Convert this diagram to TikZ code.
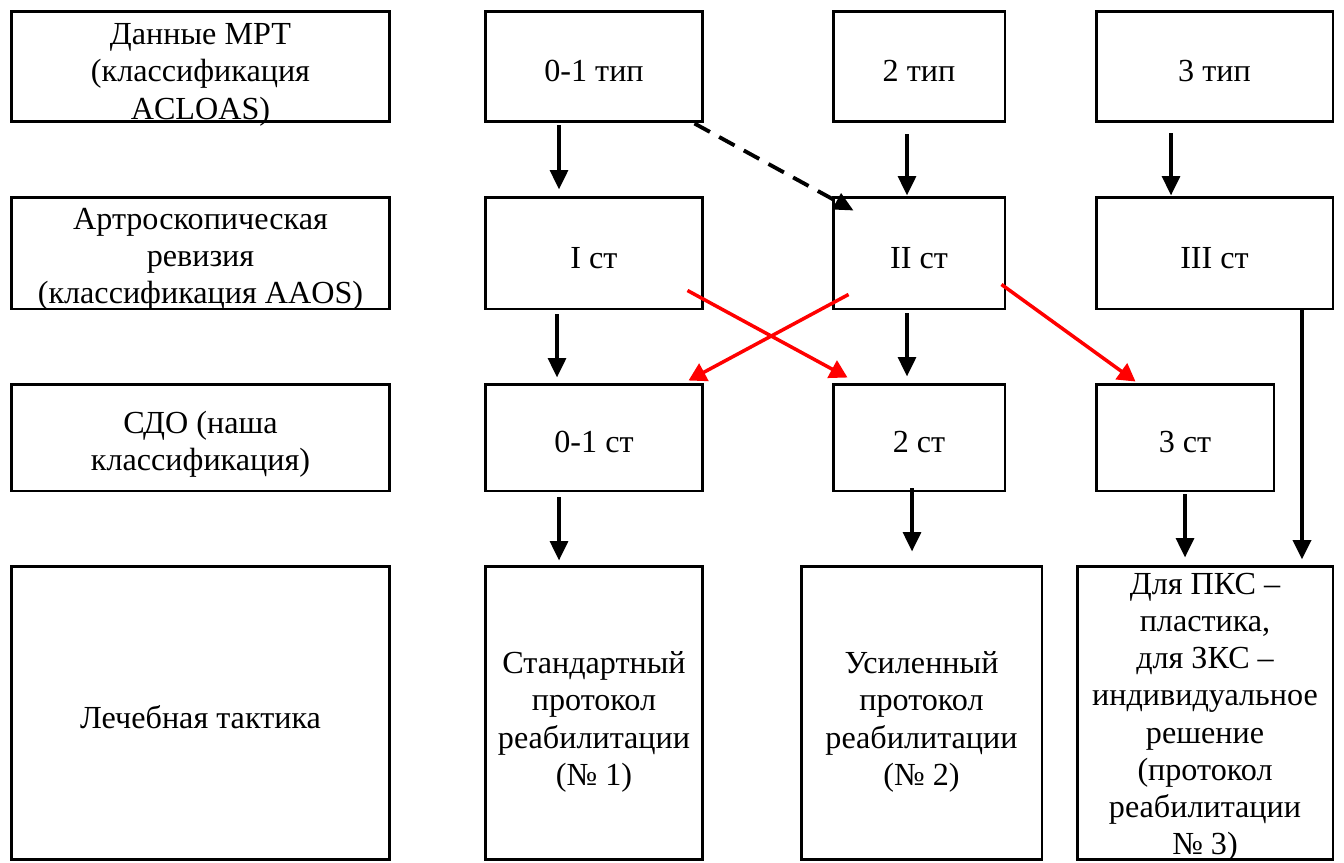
\documentclass[tikz,border=0pt]{standalone}
\usepackage{fontspec}
\setmainfont{Liberation Serif}
\usetikzlibrary{arrows.meta,positioning,calc}
% text block centred on the box, a little lower, without changing the box size
\newcommand{\boxlines}[2][8.8pt]{\raisebox{-#1}[0pt][0pt]{\begin{tabular}{@{}c@{}}#2\end{tabular}}}

\begin{document}
\begin{tikzpicture}
[x=0.02cm,y=-0.02cm,
%
box/.style={shape=rectangle,draw=black,line width=1.7pt,inner sep=0pt,
  font=\fontsize{18.3}{21.2}\selectfont},
leftbox/.style={box,minimum width=7.58cm},
midbox/.style={box,minimum width=4.36cm},
%
arr/.style={black,line width=2.2pt,-{Triangle[length=11pt,width=10pt]}},
dasharr/.style={arr,dash pattern=on 10pt off 6pt},
redarr/.style={arr,red,line width=2pt,-{Triangle[length=10pt,width=11pt]}}]
%
\useasboundingbox (0,0) rectangle (1344,862);
%
% left column
\node (mrt) [leftbox,minimum height=2.22cm] at (200.5,66.5) {\boxlines{Данные МРТ\\(классификация\\ACLOAS)}};
\node (art) [leftbox,minimum height=2.24cm] at (200.5,253) {\boxlines[7.9pt]{Артроскопическая\\ревизия\\(классификация AAOS)}};
\node (sdo) [leftbox,minimum height=2.14cm] at (200.5,437.5) {\boxlines[8.4pt]{СДО (наша\\классификация)}};
\node (tak) [leftbox,minimum height=5.88cm] at (200.5,713) {\boxlines{Лечебная тактика}};
% MRT types
\node (t01) [midbox,minimum height=2.22cm] at (594,66.5) {\boxlines{0-1 тип}};
\node (t2) [box,minimum width=3.44cm,minimum height=2.22cm] at (919,66.5) {\boxlines{2 тип}};
\node (t3) [box,minimum width=4.74cm,minimum height=2.22cm] at (1214.5,66.5) {\boxlines{3 тип}};
% AAOS stages
\node (s1) [midbox,minimum height=2.24cm] at (594,253) {\boxlines{I ст}};
\node (s2) [box,minimum width=3.44cm,minimum height=2.24cm] at (919,253) {\boxlines{II ст}};
\node (s3) [box,minimum width=4.74cm,minimum height=2.24cm] at (1214.5,253) {\boxlines{III ст}};
% SDO stages
\node (c1) [midbox,minimum height=2.14cm] at (594,437.5) {\boxlines{0-1 ст}};
\node (c2) [box,minimum width=3.44cm,minimum height=2.14cm] at (919,437.5) {\boxlines{2 ст}};
\node (c3) [box,minimum width=3.56cm,minimum height=2.14cm] at (1185,437.5) {\boxlines{3 ст}};
% tactics
\node (p1) [midbox,minimum height=5.88cm] at (594,713) {\boxlines[9.4pt]{Стандартный\\протокол\\реабилитации\\(№ 1)}};
\node (p2) [box,minimum width=4.82cm,minimum height=5.88cm] at (921.5,713) {\boxlines[9.4pt]{Усиленный\\протокол\\реабилитации\\(№ 2)}};
\node (p3) [box,minimum width=5.12cm,minimum height=5.88cm] at (1205,713) {\boxlines[6.6pt]{Для ПКС –\\пластика,\\для ЗКС –\\индивидуальное\\решение\\(протокол\\реабилитации\\№ 3)}};
%
% black arrows
\draw[arr,shorten <=0.04cm,shorten >=0.12cm] ([xshift=-0.7cm]t01.south) -- ([xshift=-0.7cm]s1.north);
\draw[arr,shorten <=0.22cm] ([xshift=-0.24cm]t2.south) -- ([xshift=-0.24cm]s2.north);
\draw[arr,shorten <=0.2cm] ([xshift=-0.87cm]t3.south) -- ([xshift=-0.87cm]s3.north);
\draw[dasharr] ([xshift=-0.2cm]t01.south east) -- ([xshift=0.44cm,yshift=-0.3cm]s2.north west);
\draw[arr,shorten <=0.08cm,shorten >=0.1cm] ([xshift=-0.74cm]s1.south) -- ([xshift=-0.74cm]c1.north);
\draw[arr,shorten <=0.06cm,shorten >=0.12cm] ([xshift=-0.24cm]s2.south) -- ([xshift=-0.24cm]c2.north);
\draw[arr,shorten <=0.1cm,shorten >=0.08cm] ([xshift=-0.7cm]c1.south) -- ([xshift=-0.7cm]p1.north);
\draw[arr,shorten <=-0.08cm,shorten >=0.26cm] ([xshift=-0.14cm]c2.south) -- ([xshift=-0.14cm]c2.south |- p2.north);
\draw[arr,shorten <=0.04cm,shorten >=0.14cm] (c3.south) -- (c3.south |- p3.north);
\draw[arr,line width=2.6pt,shorten <=-0.04cm,shorten >=0.1cm] ([xshift=1.75cm]s3.south) -- ([xshift=1.75cm]s3.south |- p3.north);
%
% red arrows
\draw[redarr] ([xshift=-0.34cm,yshift=0.4cm]s1.south east) -- ([xshift=0.32cm,yshift=0.1cm]c2.north west);
\draw[redarr] ([xshift=0.34cm,yshift=0.32cm]s2.south west) -- ([xshift=-0.32cm,yshift=0.04cm]c1.north east);
\draw[redarr] ([xshift=-0.1cm,yshift=0.52cm]s2.south east) -- ([xshift=0.82cm,yshift=0.02cm]c3.north west);
\end{tikzpicture}
\end{document}
